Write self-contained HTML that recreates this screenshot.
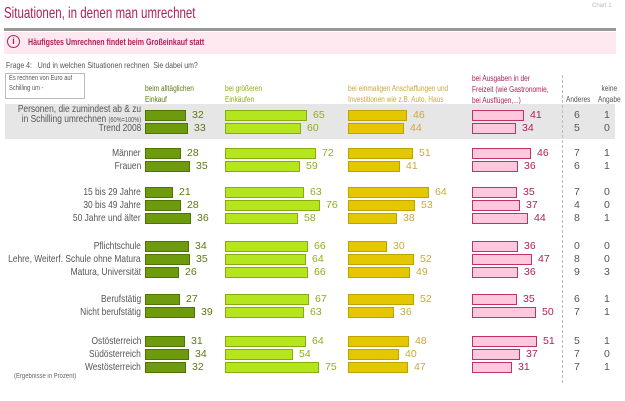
<!DOCTYPE html>
<html><head><meta charset="utf-8"><style>
body{margin:0;width:625px;height:401px;background:#fff;font-family:"Liberation Sans",sans-serif;position:relative;overflow:hidden}
div,span,i,b{position:absolute;font-style:normal;font-weight:normal}
.r{left:0;width:625px;height:13px}
.l{right:484px;top:0;font-size:10.5px;color:#555;white-space:nowrap;line-height:13px;transform:scaleX(0.8);transform-origin:right center}
i{top:1px;height:9px;border:1px solid}
.b1{left:145px;background:#6e9a0e;border-color:#4f7406}
.b2{left:225px;background:#b5e61d;border-color:#86ad10}
.b3{left:348px;background:#e3c800;border-color:#bfa300}
.b4{left:472px;background:#ffc8dc;border-color:#c0306a}
b{top:0;font-size:10.5px;line-height:13px}
.t1{color:#5a7a10}.t2{color:#8fae1c}.t3{color:#caa93a}.t4{color:#b0205a}
.a{left:574px;color:#555}.k{left:604px;color:#555}
.h{font-size:8px;line-height:11px;white-space:nowrap;transform:scaleX(0.82);transform-origin:left top}
.sx{white-space:nowrap;transform-origin:left top}
</style></head><body>
<div style="left:592px;top:3px;font-size:6px;color:#bbb">Chart 1</div>
<div class="sx" style="left:4px;top:5px;font-size:16px;color:#b0205a;transform:scaleX(0.72)">Situationen, in denen man umrechnet</div>
<div style="left:4px;top:28px;width:612px;height:3px;background:#999"></div>
<div style="left:4px;top:32px;width:612px;height:22px;background:#fde9ef"></div>
<div style="left:7px;top:35px;width:11px;height:11px;border:1.5px solid #b0205a;border-radius:50%;font-size:9px;color:#b0205a;text-align:center;line-height:11px;font-weight:bold">i</div>
<div class="sx" style="left:28px;top:37px;font-size:9.5px;color:#b0205a;font-weight:bold;transform:scaleX(0.74)">Häufigstes Umrechnen findet beim Großeinkauf statt</div>
<div class="sx" style="left:6px;top:60px;font-size:8.5px;color:#555;transform:scaleX(0.82)">Frage 4:&nbsp;&nbsp;&nbsp;Und in welchen Situationen rechnen&nbsp; Sie dabei um?</div>
<div style="left:5px;top:73px;width:78px;height:24px;border:1px solid #bbb"></div>
<div class="h" style="left:9px;top:74px;font-size:7px;line-height:10px;color:#555">Es rechnen von Euro auf<br>Schilling um -</div>
<div class="h" style="left:145px;top:83px;color:#5a7a10">beim alltäglichen<br>Einkauf</div>
<div class="h" style="left:225px;top:83px;color:#8fae1c">bei größeren<br>Einkäufen</div>
<div class="h" style="left:348px;top:83px;color:#caa93a">bei einmaligen Anschaffungen und<br>Investitionen wie z.B. Auto, Haus</div>
<div class="h" style="left:472px;top:73px;color:#b0205a">bei Ausgaben in der<br>Freizeit (wie Gastronomie,<br>bei Ausflügen,...)</div>
<div class="h" style="left:566px;top:94px;color:#555">Anderes</div>
<div class="h" style="left:598px;top:83px;color:#555;text-align:center">keine<br>Angabe</div>
<div style="left:5px;top:104px;width:610px;height:35px;background:#e6e6e6"></div>
<div style="left:562px;top:75px;height:308px;border-left:1px dashed #bbb"></div>

<div class="r" style="top:109px"><span class="l" style="top:-5px;text-align:right;line-height:10px">Personen, die zumindest ab &amp; zu<br>in Schilling umrechnen <small style="font-size:7px">(60%=100%)</small></span><i class="b1" style="width:39px"></i><b class="t1" style="left:192px">32</b><i class="b2" style="width:80px"></i><b class="t2" style="left:313px">65</b><i class="b3" style="width:57px"></i><b class="t3" style="left:413px">46</b><i class="b4" style="width:50px"></i><b class="t4" style="left:530px">41</b><b class="a">6</b><b class="k">1</b></div>
<div class="r" style="top:122px"><span class="l">Trend 2008</span><i class="b1" style="width:41px"></i><b class="t1" style="left:194px">33</b><i class="b2" style="width:74px"></i><b class="t2" style="left:307px">60</b><i class="b3" style="width:54px"></i><b class="t3" style="left:410px">44</b><i class="b4" style="width:42px"></i><b class="t4" style="left:522px">34</b><b class="a">5</b><b class="k">0</b></div>
<div class="r" style="top:147px"><span class="l">Männer</span><i class="b1" style="width:34px"></i><b class="t1" style="left:187px">28</b><i class="b2" style="width:89px"></i><b class="t2" style="left:322px">72</b><i class="b3" style="width:63px"></i><b class="t3" style="left:419px">51</b><i class="b4" style="width:57px"></i><b class="t4" style="left:537px">46</b><b class="a">7</b><b class="k">1</b></div>
<div class="r" style="top:160px"><span class="l">Frauen</span><i class="b1" style="width:43px"></i><b class="t1" style="left:196px">35</b><i class="b2" style="width:73px"></i><b class="t2" style="left:306px">59</b><i class="b3" style="width:50px"></i><b class="t3" style="left:406px">41</b><i class="b4" style="width:44px"></i><b class="t4" style="left:524px">36</b><b class="a">6</b><b class="k">1</b></div>
<div class="r" style="top:186px"><span class="l">15 bis 29 Jahre</span><i class="b1" style="width:26px"></i><b class="t1" style="left:179px">21</b><i class="b2" style="width:77px"></i><b class="t2" style="left:310px">63</b><i class="b3" style="width:79px"></i><b class="t3" style="left:435px">64</b><i class="b4" style="width:43px"></i><b class="t4" style="left:523px">35</b><b class="a">7</b><b class="k">0</b></div>
<div class="r" style="top:199px"><span class="l">30 bis 49 Jahre</span><i class="b1" style="width:34px"></i><b class="t1" style="left:187px">28</b><i class="b2" style="width:93px"></i><b class="t2" style="left:326px">76</b><i class="b3" style="width:65px"></i><b class="t3" style="left:421px">53</b><i class="b4" style="width:46px"></i><b class="t4" style="left:526px">37</b><b class="a">4</b><b class="k">0</b></div>
<div class="r" style="top:212px"><span class="l">50 Jahre und älter</span><i class="b1" style="width:44px"></i><b class="t1" style="left:197px">36</b><i class="b2" style="width:71px"></i><b class="t2" style="left:304px">58</b><i class="b3" style="width:47px"></i><b class="t3" style="left:403px">38</b><i class="b4" style="width:54px"></i><b class="t4" style="left:534px">44</b><b class="a">8</b><b class="k">1</b></div>
<div class="r" style="top:240px"><span class="l">Pflichtschule</span><i class="b1" style="width:42px"></i><b class="t1" style="left:195px">34</b><i class="b2" style="width:81px"></i><b class="t2" style="left:314px">66</b><i class="b3" style="width:37px"></i><b class="t3" style="left:393px">30</b><i class="b4" style="width:44px"></i><b class="t4" style="left:524px">36</b><b class="a">0</b><b class="k">0</b></div>
<div class="r" style="top:253px"><span class="l">Lehre, Weiterf. Schule ohne Matura</span><i class="b1" style="width:43px"></i><b class="t1" style="left:196px">35</b><i class="b2" style="width:79px"></i><b class="t2" style="left:312px">64</b><i class="b3" style="width:64px"></i><b class="t3" style="left:420px">52</b><i class="b4" style="width:58px"></i><b class="t4" style="left:538px">47</b><b class="a">8</b><b class="k">0</b></div>
<div class="r" style="top:266px"><span class="l">Matura, Universität</span><i class="b1" style="width:32px"></i><b class="t1" style="left:185px">26</b><i class="b2" style="width:81px"></i><b class="t2" style="left:314px">66</b><i class="b3" style="width:60px"></i><b class="t3" style="left:416px">49</b><i class="b4" style="width:44px"></i><b class="t4" style="left:524px">36</b><b class="a">9</b><b class="k">3</b></div>
<div class="r" style="top:293px"><span class="l">Berufstätig</span><i class="b1" style="width:33px"></i><b class="t1" style="left:186px">27</b><i class="b2" style="width:82px"></i><b class="t2" style="left:315px">67</b><i class="b3" style="width:64px"></i><b class="t3" style="left:420px">52</b><i class="b4" style="width:43px"></i><b class="t4" style="left:523px">35</b><b class="a">6</b><b class="k">1</b></div>
<div class="r" style="top:306px"><span class="l">Nicht berufstätig</span><i class="b1" style="width:48px"></i><b class="t1" style="left:201px">39</b><i class="b2" style="width:77px"></i><b class="t2" style="left:310px">63</b><i class="b3" style="width:44px"></i><b class="t3" style="left:400px">36</b><i class="b4" style="width:62px"></i><b class="t4" style="left:542px">50</b><b class="a">7</b><b class="k">1</b></div>
<div class="r" style="top:335px"><span class="l">Ostösterreich</span><i class="b1" style="width:38px"></i><b class="t1" style="left:191px">31</b><i class="b2" style="width:79px"></i><b class="t2" style="left:312px">64</b><i class="b3" style="width:59px"></i><b class="t3" style="left:415px">48</b><i class="b4" style="width:63px"></i><b class="t4" style="left:543px">51</b><b class="a">5</b><b class="k">1</b></div>
<div class="r" style="top:348px"><span class="l">Südösterreich</span><i class="b1" style="width:42px"></i><b class="t1" style="left:195px">34</b><i class="b2" style="width:66px"></i><b class="t2" style="left:299px">54</b><i class="b3" style="width:49px"></i><b class="t3" style="left:405px">40</b><i class="b4" style="width:46px"></i><b class="t4" style="left:526px">37</b><b class="a">7</b><b class="k">0</b></div>
<div class="r" style="top:361px"><span class="l">Westösterreich</span><i class="b1" style="width:39px"></i><b class="t1" style="left:192px">32</b><i class="b2" style="width:92px"></i><b class="t2" style="left:325px">75</b><i class="b3" style="width:58px"></i><b class="t3" style="left:414px">47</b><i class="b4" style="width:38px"></i><b class="t4" style="left:518px">31</b><b class="a">7</b><b class="k">1</b></div>
<div class="sx" style="left:14px;top:373px;font-size:7px;color:#666;transform:scaleX(0.85)">(Ergebnisse in Prozent)</div>
</body></html>
